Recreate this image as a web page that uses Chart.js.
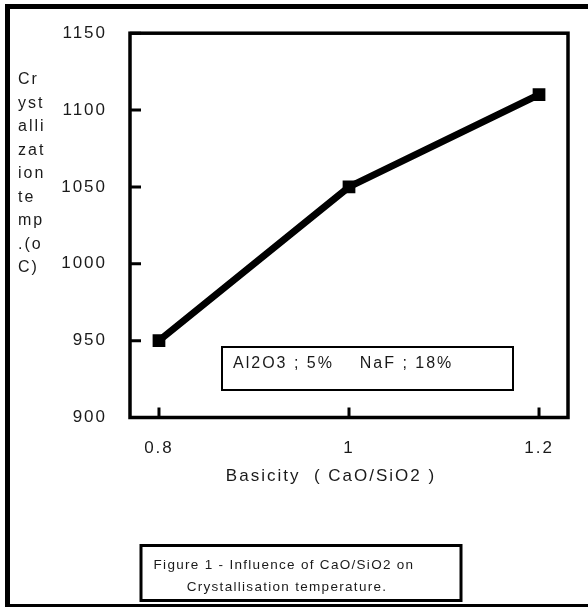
<!DOCTYPE html>
<html>
<head>
<meta charset="utf-8">
<script src="https://cdn.jsdelivr.net/npm/chart.js@4/dist/chart.umd.min.js"></script>
<style>
  html, body { margin: 0; padding: 0; background: #fff; }
  #contenedor { width: 588px; height: 607px; position: relative; }
</style>
</head>
<body>
<div id="contenedor"><canvas id="miGrafica"></canvas></div>
<script>
// Datos
const basicidad = [0.8, 1.0, 1.2];          // CaO/SiO2
const temperatura = [950, 1050, 1110];      // temp. de cristalizacion
const ticksX = [0.8, 1, 1.2];
const ticksY = [900, 950, 1000, 1050, 1100, 1150];
const tituloY = ['Cr', 'yst', 'alli', 'zat', 'ion', 'te', 'mp', '.(o', 'C)'];
const tituloX = 'Basicity  ( CaO/SiO2 )';
const nota = 'Al2O3 ; 5%    NaF ; 18%';
const leyenda = ['Figure 1 - Influence of CaO/SiO2 on', 'Crystallisation temperature.'];

const fuente = '"Liberation Sans", Arial, sans-serif';
const colorTexto = '#1a1a1a';

// dibuja marcos, ticks hacia adentro y los textos sueltos
const marco = {
    id: 'marco',
    beforeDraw(chart) {
        const ctx = chart.ctx;
        ctx.save();
        ctx.fillStyle = '#fff';
        ctx.fillRect(0, 0, chart.width, chart.height);
        ctx.restore();
        ctx.letterSpacing = '2px';
    },
    beforeDatasetsDraw(chart) {
        const ctx = chart.ctx;
        const a = chart.chartArea;
        const x = chart.scales.x, y = chart.scales.y;
        ctx.save();
        ctx.strokeStyle = '#000';
        ctx.lineWidth = 3.5;
        ctx.strokeRect(a.left, a.top, a.right - a.left, a.bottom - a.top);
        ctx.lineWidth = 3;
        ctx.beginPath();
        ticksY.forEach(v => {
            const py = y.getPixelForValue(v);
            ctx.moveTo(a.left, py);
            ctx.lineTo(a.left + 11, py);
        });
        ticksX.forEach(v => {
            const px = x.getPixelForValue(v);
            ctx.moveTo(px, a.bottom);
            ctx.lineTo(px, a.bottom - 10);
        });
        ctx.stroke();
        ctx.restore();
    },
    afterDraw(chart) {
        const ctx = chart.ctx;
        ctx.save();
        // marco exterior
        ctx.fillStyle = '#000';
        ctx.fillRect(5, 4, 5, 603);
        ctx.fillRect(5, 4, 583, 5);
        ctx.fillRect(5, 604, 583, 3);

        ctx.fillStyle = colorTexto;
        ctx.letterSpacing = '2px';
        ctx.textBaseline = 'middle';
        ctx.textAlign = 'left';
        ctx.font = '16px ' + fuente;
        tituloY.forEach((t, i) => ctx.fillText(t, 18, 80 + i * 23.5));

        ctx.textAlign = 'center';
        ctx.font = '17px ' + fuente;
        ctx.fillText(tituloX, 331, 476);

        // cuadro de composicion
        ctx.strokeStyle = '#000';
        ctx.lineWidth = 2;
        ctx.strokeRect(222, 347, 291, 43);
        ctx.textAlign = 'left';
        ctx.font = '16px ' + fuente;
        ctx.fillText(nota, 233, 364);

        // cuadro de leyenda
        ctx.lineWidth = 3;
        ctx.strokeRect(141, 545.5, 320, 55);
        ctx.textAlign = 'center';
        ctx.letterSpacing = '1.3px';
        ctx.font = '13.5px ' + fuente;
        ctx.fillText(leyenda[0], 284, 565);
        ctx.fillText(leyenda[1], 287, 587);
        ctx.restore();
    }
};

const ctx = document.getElementById('miGrafica').getContext('2d');
new Chart(ctx, {
    type: 'line',
    data: {
        datasets: [{
            data: basicidad.map((b, i) => ({ x: b, y: temperatura[i] })),
            borderColor: '#000',
            backgroundColor: '#000',
            borderWidth: 7,
            pointStyle: 'rect',
            pointRadius: 9,
            pointBorderWidth: 0,
            pointBackgroundColor: '#000',
            tension: 0,
            fill: false
        }]
    },
    options: {
        responsive: true,
        maintainAspectRatio: false,
        animation: false,
        layout: { padding: { top: 32.5, right: 20, left: 0, bottom: 0 } },
        plugins: { legend: { display: false }, tooltip: { enabled: false } },
        scales: {
            x: {
                type: 'linear',
                min: 0.7695,
                max: 1.2305,
                afterBuildTicks: s => { s.ticks = ticksX.map(v => ({ value: v })); },
                afterFit: s => { s.height = 607 - 417.5; },
                grid: { display: false, drawTicks: false },
                border: { display: false },
                ticks: {
                    autoSkip: false,
                    maxRotation: 0,
                    padding: 21,
                    color: colorTexto,
                    font: { family: fuente, size: 17 },
                    callback: v => String(v)
                }
            },
            y: {
                min: 900,
                max: 1150,
                afterBuildTicks: s => { s.ticks = ticksY.map(v => ({ value: v })); },
                afterFit: s => { s.width = 130; },
                grid: { display: false, drawTicks: false },
                border: { display: false },
                ticks: {
                    padding: 23,
                    color: colorTexto,
                    font: { family: fuente, size: 17 },
                    callback: v => String(v)
                }
            }
        }
    },
    plugins: [marco]
});
</script>
</body>
</html>
